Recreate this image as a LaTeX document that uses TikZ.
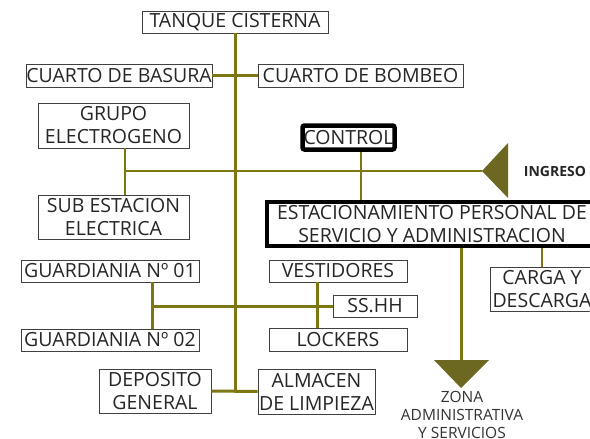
\documentclass[tikz,border=0pt]{standalone}
\usepackage{fontspec}
\setmainfont{Open Sans}
\begin{document}
\begin{tikzpicture}[x=1pt,y=-1pt,
  box/.style={draw=black!75,line width=0.9pt,inner sep=0pt,align=center,text=black!85,
    font=\fontsize{19.5}{23}\selectfont},
  thickbox/.style={box,line width=4.5pt,draw=black},
  link/.style={draw=olive!85!black,line width=2.2pt},
  trunk/.style={link,line width=3pt},
  tri/.style={fill=olive!70!black,draw=none}]
\useasboundingbox (0,0) rectangle (590,439);
\fill[white] (0,0) rectangle (590,439);
% boxes
\node[box,minimum width=186pt,minimum height=22pt] (tanque) at (235,22) {TANQUE CISTERNA};
\node[box,minimum width=186pt,minimum height=23pt] (basura) at (119,75.5) {CUARTO DE BASURA};
\node[box,minimum width=205pt,minimum height=23pt] (bombeo) at (360.5,75.5) {CUARTO DE BOMBEO};
\node[box,minimum width=151pt,minimum height=45pt] (grupo) at (113.5,125.5) {GRUPO\\ELECTROGENO};
\node[box,minimum width=151pt,minimum height=44pt] (subest) at (113.5,217) {SUB ESTACION\\ELECTRICA};
\node[box,minimum width=178pt,minimum height=22pt] (guard1) at (110,271) {GUARDIANIA Nº 01};
\node[box,minimum width=178pt,minimum height=22pt] (guard2) at (110,340) {GUARDIANIA Nº 02};
\node[box,minimum width=112pt,minimum height=44pt] (deposito) at (155,391) {DEPOSITO\\GENERAL};
\node[box,minimum width=117pt,minimum height=45pt] (almacen) at (316.5,391.5) {ALMACEN\\DE LIMPIEZA};
\node[box,minimum width=138pt,minimum height=22pt] (vest) at (338,271) {VESTIDORES};
\node[box,minimum width=84pt,minimum height=22pt] (sshh) at (375,306) {SS.HH};
\node[box,minimum width=138pt,minimum height=23pt] (lockers) at (338,339.5) {LOCKERS};
\node[box,minimum width=104pt,minimum height=44pt] (carga) at (542,289) {CARGA Y\\DESCARGA};
\node[thickbox,rounded corners=2pt,minimum width=92pt,minimum height=24pt] (control) at (348.5,137.5) {CONTROL};
\node[thickbox,minimum width=330pt,minimum height=44pt] (estac) at (432,224) {ESTACIONAMIENTO PERSONAL DE\\SERVICIO Y ADMINISTRACION};
% labels
\node[font=\bfseries\fontsize{14}{16}\selectfont,text=black!85,inner sep=0pt] (ingreso) at (555,171) {INGRESO};
\node[font=\fontsize{15.5}{18}\selectfont,text=black!80,align=center,inner sep=0pt,anchor=north] (zona) at (462,391) {ZONA\\ADMINISTRATIVA\\Y SERVICIOS};
% triangles
\coordinate (ingtip) at (482,171);
\fill[tri] (ingtip) -- (508,143) -- (508,198) -- cycle;
\coordinate (zonatop) at (461,360);
\fill[tri] (434,360) -- (489,360) -- (461,388) -- cycle;
% junctions
\coordinate (jdep) at (235,391);
\coordinate (jing) at (125,171);
\coordinate (jguard) at (152,306);
% connectors
\draw[trunk] (tanque.south) -- (jdep);
\draw[trunk] (deposito.east) -- (almacen.west);
\draw[link] (basura.east) -- (bombeo.west);
\draw[link] (grupo.south -| jing) -- (subest.north -| jing);
\draw[link] (jing) -- (ingtip);
\draw[link] (control.south -| 361,0) -- (estac.north -| 361,0);
\draw[trunk] (estac.south -| zonatop) -- (zonatop);
\draw[link] (estac.south -| carga) -- (carga.north);
\draw[trunk] (guard1.south -| jguard) -- (guard2.north -| jguard);
\draw[trunk] (jguard) -- (sshh.west);
\draw[trunk] (vest.south -| 317,0) -- (lockers.north -| 317,0);
\end{tikzpicture}
\end{document}
